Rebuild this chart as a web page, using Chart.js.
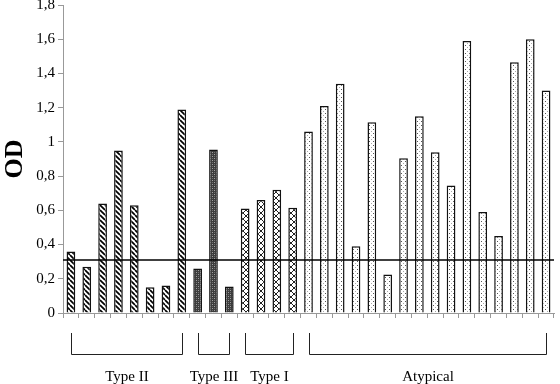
<!DOCTYPE html>
<html>
<head>
<meta charset="utf-8">
<script src="https://cdn.jsdelivr.net/npm/chart.js@4"></script>
<style>
  html, body { margin: 0; padding: 0; background: #fff; }
  #wrap { width: 560px; height: 384px; }
</style>
</head>
<body>
<div id="wrap"><canvas id="barChart" width="560" height="384"></canvas></div>
<script>
// OD values, one array per group
const typeII = [0.36, 0.27, 0.64, 0.95, 0.63, 0.15, 0.16, 1.19];
const typeIII = [0.26, 0.955, 0.155];
const typeI = [0.61, 0.66, 0.72, 0.615];
const atypical = [1.06, 1.21, 1.34, 0.39, 1.115, 0.225, 0.905, 1.15, 0.94, 0.745, 1.59, 0.59, 0.45, 1.465, 1.6, 1.30];
const groupNames = ['Type II', 'Type III', 'Type I', 'Atypical'];
const cutoff = 0.31;
const yTicks = [0, 0.2, 0.4, 0.6, 0.8, 1, 1.2, 1.4, 1.6, 1.8];

const groups = [typeII, typeIII, typeI, atypical];
const values = [].concat(...groups);
const labels = values.map((v, i) => String(i + 1));

// fill patterns
function makeTile(size, draw) {
    const c = document.createElement('canvas');
    c.width = size; c.height = size;
    const g = c.getContext('2d');
    draw(g, size);
    return c.getContext('2d').createPattern(c, 'repeat');
}
const stripes = makeTile(5, (g, s) => {
    g.fillStyle = '#fff'; g.fillRect(0, 0, s, s);
    g.strokeStyle = '#000'; g.lineWidth = 1.7;
    for (let k = -s; k <= s; k += s) {
        g.beginPath(); g.moveTo(k, 0); g.lineTo(k + s, s); g.stroke();
    }
});
const darkCheck = makeTile(4, (g, s) => {
    g.fillStyle = '#3c3c3c'; g.fillRect(0, 0, s, s);
    g.fillStyle = '#a0a0a0';
    g.fillRect(0, 0, 1, 1); g.fillRect(2, 2, 1, 1);
    g.fillStyle = '#707070';
    g.fillRect(2, 0, 1, 1); g.fillRect(0, 2, 1, 1);
});
const lattice = makeTile(6, (g, s) => {
    g.fillStyle = '#fff'; g.fillRect(0, 0, s, s);
    g.strokeStyle = '#222'; g.lineWidth = 1;
    g.beginPath(); g.moveTo(0, 0); g.lineTo(s, s); g.stroke();
    g.beginPath(); g.moveTo(s, 0); g.lineTo(0, s); g.stroke();
});
const dots = makeTile(4, (g, s) => {
    g.fillStyle = '#fff'; g.fillRect(0, 0, s, s);
    g.fillStyle = '#555'; g.fillRect(1, 1, 1, 1);
    g.fillStyle = '#aaa'; g.fillRect(3, 3, 1, 1);
});
const groupFills = [stripes, darkCheck, lattice, dots];

const fills = [];
groups.forEach((grp, gi) => grp.forEach(() => fills.push(groupFills[gi])));

// horizontal cut-off line and group brackets under the axis
const extras = {
    id: 'extras',
    afterDatasetsDraw(chart) {
        const ctx = chart.ctx;
        const y = chart.scales.y.getPixelForValue(cutoff);
        ctx.save();
        ctx.strokeStyle = '#000';
        ctx.lineWidth = 1.5;
        ctx.beginPath();
        ctx.moveTo(chart.chartArea.left, y);
        ctx.lineTo(chart.chartArea.right, y);
        ctx.stroke();
        ctx.restore();
    },
    afterDraw(chart) {
        const ctx = chart.ctx;
        const x = chart.scales.x;
        let start = 0;
        ctx.save();
        ctx.strokeStyle = '#222';
        ctx.lineWidth = 1;
        ctx.fillStyle = '#000';
        ctx.font = '15px "Liberation Serif", "Times New Roman", serif';
        ctx.textAlign = 'center';
        ctx.textBaseline = 'middle';
        groups.forEach((grp, gi) => {
            const x0 = Math.round(x.getPixelForValue(start)) + 0.5;
            const x1 = Math.round(x.getPixelForValue(start + grp.length - 1)) + 0.5;
            ctx.beginPath();
            ctx.moveTo(x0, 333);
            ctx.lineTo(x0, 354.5);
            ctx.lineTo(x1, 354.5);
            ctx.lineTo(x1, 333);
            ctx.stroke();
            ctx.fillText(groupNames[gi], (x0 + x1) / 2, 377);
            start += grp.length;
        });
        ctx.restore();
    }
};

function buildGraph() {
    const chart = document.getElementById('barChart');
    let barChart = new Chart(chart, {
        type: 'bar',
        data: {
            labels: labels,
            datasets: [{
                label: 'OD',
                data: values,
                backgroundColor: fills,
                borderColor: '#111',
                borderWidth: 1.5,
                borderSkipped: 'bottom',
                barPercentage: 0.55,
                categoryPercentage: 1
            }]
        },
        options: {
            responsive: false,
            animation: false,
            layout: { padding: { top: 0, right: 6, left: 0, bottom: 0 } },
            plugins: { legend: { display: false }, tooltip: { enabled: false } },
            scales: {
                x: {
                    offset: true,
                    grid: {
                        offset: true,
                        drawOnChartArea: false,
                        color: '#999',
                        tickLength: 5
                    },
                    border: { color: '#999' },
                    ticks: { callback: () => '' },
                    afterFit(scale) { scale.height = 71; }
                },
                y: {
                    min: 0,
                    max: 1.8,
                    afterBuildTicks(scale) { scale.ticks = yTicks.map(v => ({ value: v })); },
                    grid: { drawOnChartArea: false, color: '#999', tickLength: 5 },
                    border: { color: '#999' },
                    ticks: {
                        color: '#000',
                        padding: 3,
                        font: { family: '"Liberation Serif", "Times New Roman", serif', size: 15 },
                        callback: v => String(Number(v.toFixed(1))).replace('.', ',')
                    },
                    title: {
                        display: true,
                        text: 'OD',
                        color: '#000',
                        padding: { top: 0, bottom: 0 },
                        font: { family: '"Liberation Serif", "Times New Roman", serif', size: 26, weight: 'bold' }
                    },
                    afterFit(scale) {
                        scale.width = 63;
                        scale.paddingTop = 5;
                    }
                }
            }
        },
        plugins: [extras]
    });
}

buildGraph();
</script>
</body>
</html>
